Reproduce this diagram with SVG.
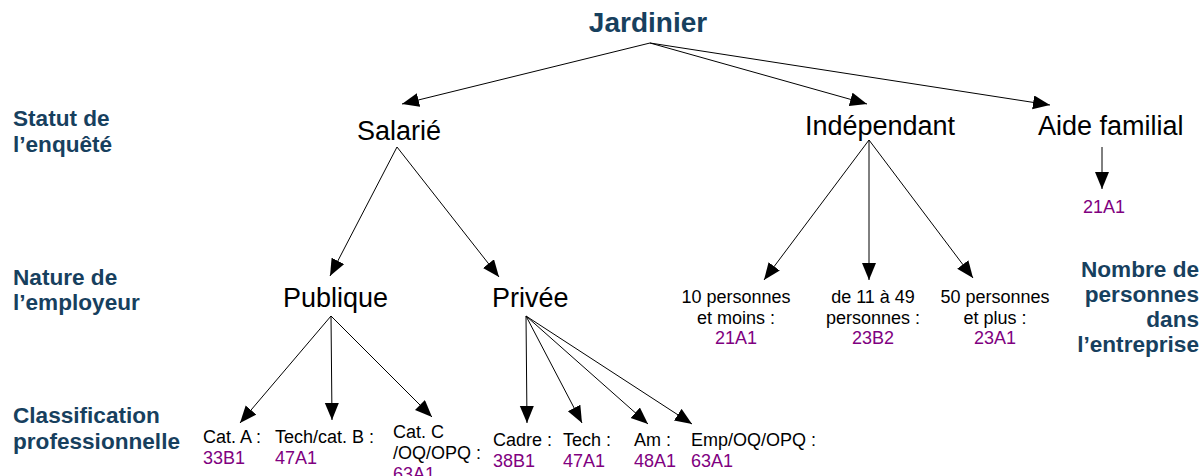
<svg xmlns="http://www.w3.org/2000/svg" width="1204" height="476" viewBox="0 0 1204 476">
<style>
text{font-family:"Liberation Sans",Arial,sans-serif;fill:#000}
.title{font-size:28px;font-weight:bold;fill:#17405e}
.head{font-size:22.6px;font-weight:bold;fill:#17405e}
.node{font-size:27px}
.lab{font-size:18px}
.code{font-size:18px;fill:#800080}
.mid{text-anchor:middle}
.end{text-anchor:end}
.edge{stroke:#000;stroke-width:1;fill:none;marker-end:url(#ah)}
</style>
<defs>
<marker id="ah" markerUnits="userSpaceOnUse" markerWidth="18" markerHeight="15" refX="17" refY="7" orient="auto" viewBox="0 0 18 15">
<path d="M0,0 L17,7 L0,14 z" fill="#000"/>
</marker>
</defs>
<rect width="1204" height="476" fill="#fff"/>
<g id="headings">
<text class="head" x="13" y="126">Statut de</text>
<text class="head" x="13" y="152">l’enquêté</text>
<text class="head" x="13" y="285">Nature de</text>
<text class="head" x="13" y="310">l’employeur</text>
<text class="head" x="13" y="423">Classification</text>
<text class="head" x="13" y="449">professionnelle</text>
<text class="head end" x="1199" y="277">Nombre de</text>
<text class="head end" x="1199" y="302">personnes</text>
<text class="head end" x="1199" y="327">dans</text>
<text class="head end" x="1199" y="352">l’entreprise</text>
</g>
<g id="connectors">
<line class="edge" x1="650" y1="43" x2="402" y2="104"/>
<line class="edge" x1="650" y1="43" x2="867" y2="104"/>
<line class="edge" x1="650" y1="43" x2="1050" y2="105"/>
<line class="edge" x1="397" y1="147" x2="330" y2="276"/>
<line class="edge" x1="397" y1="147" x2="499" y2="277"/>
<line class="edge" x1="869" y1="140" x2="764" y2="280"/>
<line class="edge" x1="869" y1="140" x2="869" y2="280"/>
<line class="edge" x1="869" y1="140" x2="973" y2="278"/>
<line class="edge" x1="1102" y1="147" x2="1102" y2="189"/>
<line class="edge" x1="331" y1="316" x2="240" y2="423"/>
<line class="edge" x1="331" y1="316" x2="332" y2="420"/>
<line class="edge" x1="331" y1="316" x2="432" y2="417"/>
<line class="edge" x1="526" y1="316" x2="527" y2="423"/>
<line class="edge" x1="526" y1="316" x2="582" y2="423"/>
<line class="edge" x1="526" y1="316" x2="648" y2="424"/>
<line class="edge" x1="526" y1="316" x2="692" y2="424"/>
</g>
<g id="n-jardinier"><text class="title mid" x="648" y="32">Jardinier</text></g>
<g id="n-salarie"><text class="node" x="357" y="140">Salarié</text></g>
<g id="n-independant"><text class="node mid" x="880" y="135">Indépendant</text></g>
<g id="n-aide"><text class="node" x="1038" y="135">Aide familial</text></g>
<g id="n-aide-code"><text class="code mid" x="1104" y="213">21A1</text></g>
<g id="n-publique"><text class="node" x="283" y="307">Publique</text></g>
<g id="n-privee"><text class="node" x="492" y="307">Privée</text></g>
<g id="n-moins10">
<text class="lab mid" x="736" y="303">10 personnes</text>
<text class="lab mid" x="736" y="324">et moins :</text>
<text class="code mid" x="736" y="344">21A1</text>
</g>
<g id="n-11-49">
<text class="lab mid" x="873" y="303">de 11 à 49</text>
<text class="lab mid" x="873" y="324">personnes :</text>
<text class="code mid" x="873" y="344">23B2</text>
</g>
<g id="n-plus50">
<text class="lab mid" x="995" y="303">50 personnes</text>
<text class="lab mid" x="995" y="324">et plus :</text>
<text class="code mid" x="995" y="344">23A1</text>
</g>
<g id="n-cata">
<text class="lab" x="203" y="443">Cat. A :</text>
<text class="code" x="203" y="464">33B1</text>
</g>
<g id="n-catb">
<text class="lab" x="275" y="443">Tech/cat. B :</text>
<text class="code" x="275" y="464">47A1</text>
</g>
<g id="n-catc">
<text class="lab" x="393" y="438">Cat. C</text>
<text class="lab" x="393" y="459">/OQ/OPQ :</text>
<text class="code" x="393" y="480">63A1</text>
</g>
<g id="n-cadre">
<text class="lab" x="493" y="446">Cadre :</text>
<text class="code" x="493" y="467">38B1</text>
</g>
<g id="n-tech">
<text class="lab" x="563" y="446">Tech :</text>
<text class="code" x="563" y="467">47A1</text>
</g>
<g id="n-am">
<text class="lab" x="634" y="446">Am :</text>
<text class="code" x="634" y="467">48A1</text>
</g>
<g id="n-emp">
<text class="lab" x="691" y="446">Emp/OQ/OPQ :</text>
<text class="code" x="691" y="467">63A1</text>
</g>
</svg>
